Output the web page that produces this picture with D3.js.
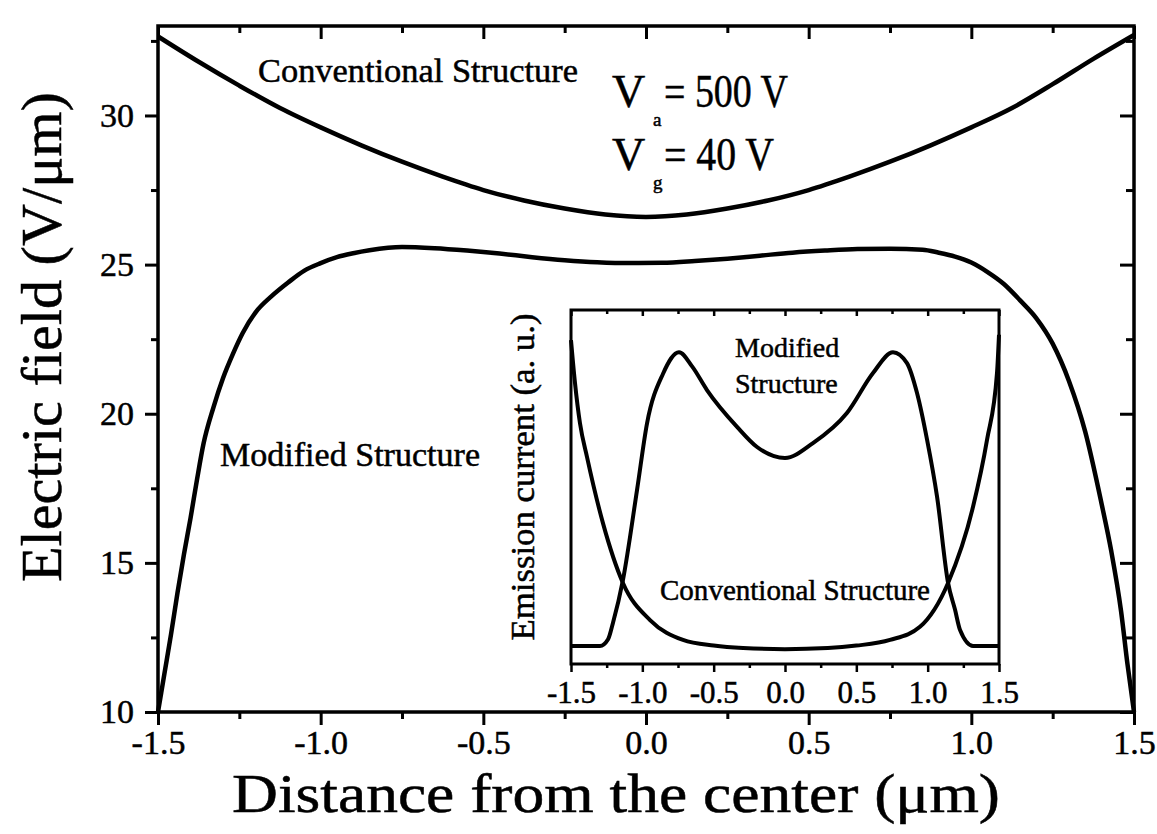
<!DOCTYPE html>
<html>
<head>
<meta charset="utf-8">
<script src="https://cdn.jsdelivr.net/npm/d3@7"></script>
<style>
  html, body { margin: 0; padding: 0; background: #fff; }
  svg { display: block; }
  text { font-family: "Liberation Serif", "Times New Roman", serif; fill: #000; stroke: #000; stroke-width: 0.5px; }
</style>
</head>
<body>
<svg id="chart" width="1157" height="834"></svg>
<script>
// ---------------- data ----------------
// main chart: x ticks
const xMajor = [-1.5, -1.0, -0.5, 0.0, 0.5, 1.0, 1.5];
const xTickLabels = ["-1.5", "-1.0", "-0.5", "0.0", "0.5", "1.0", "1.5"];
const xMinor = [-1.25, -0.75, -0.25, 0.25, 0.75, 1.25];
// main chart: y ticks
const yMajor = [10, 15, 20, 25, 30];
const yTickLabels = ["10", "15", "20", "25", "30"];
const yMinor = [12.5, 17.5, 22.5, 27.5, 32.5];

// Electric field, conventional structure (V/um)
const convX = [-1.5, -1.375, -1.25, -1.125, -1.0, -0.875, -0.75, -0.625, -0.5, -0.375, -0.25, -0.125, 0.0,
               0.125, 0.25, 0.375, 0.5, 0.625, 0.75, 0.875, 1.0, 1.125, 1.25, 1.375, 1.5];
const convField = [32.65, 31.8, 31.0, 30.25, 29.6, 29.0, 28.45, 27.95, 27.5, 27.15, 26.88, 26.68, 26.6,
                   26.68, 26.88, 27.15, 27.5, 27.95, 28.45, 29.0, 29.6, 30.25, 31.05, 31.9, 32.7];

// Electric field, modified structure (V/um)
const modX = [-1.5, -1.48, -1.46, -1.44, -1.42, -1.4, -1.38, -1.36, -1.33, -1.3, -1.27, -1.24, -1.2, -1.15,
              -1.1, -1.05, -1.0, -0.95, -0.9, -0.85, -0.75, -0.65, -0.55, -0.45, -0.35, -0.25, -0.15, -0.05,
              0.05, 0.15, 0.25, 0.35, 0.45, 0.55, 0.65, 0.75, 0.85, 0.9, 0.95, 1.0, 1.05, 1.1, 1.15, 1.2,
              1.25, 1.3, 1.35, 1.4, 1.43, 1.46, 1.48, 1.5];
const modField = [10, 11.3, 12.6, 14.0, 15.3, 16.5, 17.8, 19.0, 20.2, 21.2, 22.0, 22.7, 23.4, 23.95,
                  24.4, 24.8, 25.05, 25.25, 25.38, 25.48, 25.59, 25.55, 25.47, 25.37, 25.25, 25.15, 25.08, 25.05,
                  25.06, 25.12, 25.2, 25.3, 25.4, 25.47, 25.52, 25.53, 25.5, 25.4, 25.27, 25.07, 24.75, 24.35, 23.8, 23.2,
                  22.35, 21.1, 19.4, 17.0, 15.4, 13.4, 11.6, 10];

// inset: emission current (a. u.)
const insetXMajor = [-1.5, -1.0, -0.5, 0.0, 0.5, 1.0, 1.5];
const insetXTickLabels = ["-1.5", "-1.0", "-0.5", "0.0", "0.5", "1.0", "1.5"];
const insetXMinor = [-1.25, -0.75, -0.25, 0.25, 0.75, 1.25];

const modCurX = [-1.5, -1.297, -1.24, -1.206, -1.136, -1.037, -0.967, -0.855, -0.743, -0.65, -0.547, -0.336,
                 -0.196, 0.0, 0.196, 0.434, 0.617, 0.757, 0.855, 0.925, 0.996, 1.066, 1.143, 1.192, 1.227, 1.318, 1.5];
const modCurrent = [5.1, 5.1, 7.0, 11.6, 23.7, 49.2, 68, 82, 88.1, 84, 77.4, 67,
                    61.3, 58.2, 62.4, 70.9, 82.2, 88.1, 85, 76.6, 63.3, 47.2, 22.9, 15.3, 9.6, 5.1, 5.1];

const convCurX = [-1.5, -1.472, -1.437, -1.388, -1.276, -1.136, -0.946, -0.715, -0.5, -0.294, 0.0,
                  0.3, 0.5, 0.736, 0.946, 1.143, 1.318, 1.416, 1.486, 1.5];
const convCurrent = [91.5, 79.4, 68, 58.5, 39.8, 22.9, 12.4, 6.8, 5.2, 4.5, 4.2,
                     4.5, 5.2, 6.8, 10.5, 22.9, 44.4, 63.3, 82.2, 93];

// ---------------- drawing ----------------
const svg = d3.select("#chart");
const FONT = '"Liberation Serif", "Times New Roman", serif';

svg.append("rect").attr("width", 1157).attr("height", 834).attr("fill", "#fff").attr("stroke", "none");

// main scales
const x = d3.scaleLinear().domain([-1.5, 1.5]).range([158, 1134]);
const y = d3.scaleLinear().domain([10, 33]).range([712, 26]);

const main = svg.append("g");

function styleAxis(g, fs, sw) {
  g.attr("font-family", FONT).attr("font-size", fs);
  g.select(".domain").remove();
  g.selectAll(".tick line").attr("stroke", "#000").attr("stroke-width", sw);
  g.selectAll(".tick text").attr("fill", "#000");
}

// bottom axis (outward)
main.append("g").attr("transform", `translate(0,${y(10)})`)
  .call(d3.axisBottom(x).tickValues(xMajor).tickFormat((d, i) => xTickLabels[i]).tickSize(13).tickPadding(5))
  .call(g => styleAxis(g, 34, 3));
main.append("g").attr("transform", `translate(0,${y(10)})`)
  .call(d3.axisBottom(x).tickValues(xMinor).tickFormat("").tickSize(7))
  .call(g => styleAxis(g, 34, 3));
// top axis (inward)
main.append("g").attr("transform", `translate(0,${y(33)})`)
  .call(d3.axisTop(x).tickValues(xMajor).tickFormat("").tickSize(-13))
  .call(g => styleAxis(g, 34, 3));
main.append("g").attr("transform", `translate(0,${y(33)})`)
  .call(d3.axisTop(x).tickValues(xMinor).tickFormat("").tickSize(-7))
  .call(g => styleAxis(g, 34, 3));
// left axis (outward)
main.append("g").attr("transform", `translate(${x(-1.5)},0)`)
  .call(d3.axisLeft(y).tickValues(yMajor).tickFormat((d, i) => yTickLabels[i]).tickSize(13).tickPadding(11))
  .call(g => styleAxis(g, 34, 3));
main.append("g").attr("transform", `translate(${x(-1.5)},0)`)
  .call(d3.axisLeft(y).tickValues(yMinor).tickFormat("").tickSize(7))
  .call(g => styleAxis(g, 34, 3));
// right axis (inward)
main.append("g").attr("transform", `translate(${x(1.5)},0)`)
  .call(d3.axisRight(y).tickValues(yMajor).tickFormat("").tickSize(-14))
  .call(g => styleAxis(g, 34, 3));
main.append("g").attr("transform", `translate(${x(1.5)},0)`)
  .call(d3.axisRight(y).tickValues(yMinor).tickFormat("").tickSize(-8))
  .call(g => styleAxis(g, 34, 3));

// frame
main.append("rect")
  .attr("x", x(-1.5)).attr("y", y(33))
  .attr("width", x(1.5) - x(-1.5)).attr("height", y(10) - y(33))
  .attr("fill", "none").attr("stroke", "#000").attr("stroke-width", 3.5);

// main curves
const mainLine = d3.line().x(d => x(d[0])).y(d => y(d[1])).curve(d3.curveMonotoneX);
main.append("path").datum(convX.map((v, i) => [v, convField[i]]))
  .attr("d", mainLine).attr("fill", "none").attr("stroke", "#000").attr("stroke-width", 4.5)
  .attr("stroke-linejoin", "round");
main.append("path").datum(modX.map((v, i) => [v, modField[i]]))
  .attr("d", mainLine).attr("fill", "none").attr("stroke", "#000").attr("stroke-width", 4.5)
  .attr("stroke-linejoin", "round");

// axis titles
svg.append("text").attr("x", 616).attr("y", 812).attr("text-anchor", "middle")
  .attr("font-size", 54).attr("textLength", 768).attr("lengthAdjust", "spacingAndGlyphs")
  .text("Distance from the center (\u03bcm)");
svg.append("text").attr("transform", "translate(61,337) rotate(-90)").attr("text-anchor", "middle")
  .attr("font-size", 58).attr("textLength", 490).attr("lengthAdjust", "spacingAndGlyphs")
  .text("Electric field (V/\u03bcm)");

// annotations
svg.append("text").attr("x", 258).attr("y", 82).attr("font-size", 34)
  .attr("textLength", 320).attr("lengthAdjust", "spacingAndGlyphs").text("Conventional Structure");
svg.append("text").attr("x", 220).attr("y", 466).attr("font-size", 34)
  .attr("textLength", 260).attr("lengthAdjust", "spacingAndGlyphs").text("Modified Structure");

svg.append("text").attr("x", 612).attr("y", 107).attr("font-size", 46).text("V");
svg.append("text").attr("x", 653).attr("y", 126).attr("font-size", 19).text("a");
svg.append("text").attr("x", 664).attr("y", 107).attr("font-size", 46)
  .attr("textLength", 124).attr("lengthAdjust", "spacingAndGlyphs").text("= 500 V");
svg.append("text").attr("x", 612).attr("y", 170).attr("font-size", 46).text("V");
svg.append("text").attr("x", 653).attr("y", 189).attr("font-size", 19).text("g");
svg.append("text").attr("x", 664).attr("y", 170).attr("font-size", 46)
  .attr("textLength", 110).attr("lengthAdjust", "spacingAndGlyphs").text("= 40 V");

// ---------------- inset ----------------
const ix = d3.scaleLinear().domain([-1.5, 1.5]).range([571, 999]);
const iy = d3.scaleLinear().domain([0, 100]).range([664, 310]);
const inset = svg.append("g");

inset.append("rect")
  .attr("x", ix(-1.5)).attr("y", iy(100))
  .attr("width", ix(1.5) - ix(-1.5)).attr("height", iy(0) - iy(100))
  .attr("fill", "#fff");

inset.append("g").attr("transform", `translate(0,${iy(0)})`)
  .call(d3.axisBottom(ix).tickValues(insetXMajor).tickFormat((d, i) => insetXTickLabels[i]).tickSize(8).tickPadding(9))
  .call(g => styleAxis(g, 31, 2.5));
inset.append("g").attr("transform", `translate(0,${iy(0)})`)
  .call(d3.axisBottom(ix).tickValues(insetXMinor).tickFormat("").tickSize(4))
  .call(g => styleAxis(g, 31, 2.5));
inset.append("g").attr("transform", `translate(0,${iy(100)})`)
  .call(d3.axisTop(ix).tickValues(insetXMajor).tickFormat("").tickSize(-6))
  .call(g => styleAxis(g, 31, 2.5));
inset.append("g").attr("transform", `translate(0,${iy(100)})`)
  .call(d3.axisTop(ix).tickValues(insetXMinor).tickFormat("").tickSize(-4))
  .call(g => styleAxis(g, 31, 2.5));

inset.append("rect")
  .attr("x", ix(-1.5)).attr("y", iy(100))
  .attr("width", ix(1.5) - ix(-1.5)).attr("height", iy(0) - iy(100))
  .attr("fill", "none").attr("stroke", "#000").attr("stroke-width", 3);

const insetLine = d3.line().x(d => ix(d[0])).y(d => iy(d[1])).curve(d3.curveMonotoneX);
inset.append("path").datum(modCurX.map((v, i) => [v, modCurrent[i]]))
  .attr("d", insetLine).attr("fill", "none").attr("stroke", "#000").attr("stroke-width", 4)
  .attr("stroke-linejoin", "round");
inset.append("path").datum(convCurX.map((v, i) => [v, convCurrent[i]]))
  .attr("d", insetLine).attr("fill", "none").attr("stroke", "#000").attr("stroke-width", 4)
  .attr("stroke-linejoin", "round");

svg.append("text").attr("transform", "translate(534,477) rotate(-90)").attr("text-anchor", "middle")
  .attr("font-size", 33).attr("textLength", 327).attr("lengthAdjust", "spacingAndGlyphs")
  .text("Emission current (a. u.)");
svg.append("text").attr("x", 735).attr("y", 357).attr("font-size", 28).text("Modified");
svg.append("text").attr("x", 735).attr("y", 393).attr("font-size", 28).text("Structure");
svg.append("text").attr("x", 660).attr("y", 600).attr("font-size", 29)
  .attr("textLength", 270).attr("lengthAdjust", "spacingAndGlyphs").text("Conventional Structure");
</script>
</body>
</html>
